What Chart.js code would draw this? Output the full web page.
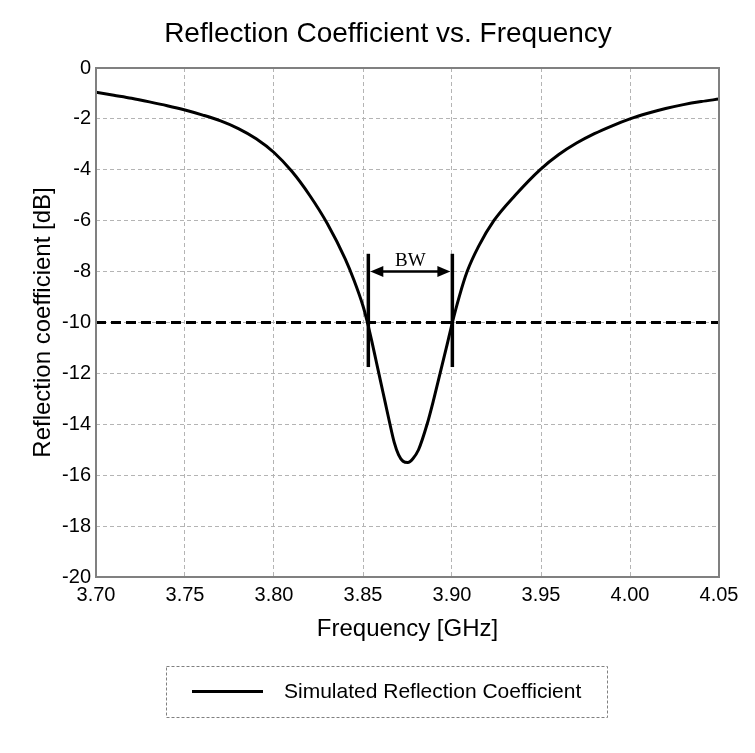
<!DOCTYPE html>
<html><head><meta charset="utf-8">
<script src="https://cdn.jsdelivr.net/npm/chart.js@4/dist/chart.umd.min.js"></script>
<style>html,body{margin:0;padding:0;background:#fff;}canvas{display:block;}</style>
</head><body>
<canvas id="c" width="755" height="753"></canvas>
<script>
// ---------- data ----------
const frequencyGHz = [3.700,3.710,3.720,3.730,3.740,3.750,3.760,3.770,3.780,3.790,3.800,3.810,3.820,3.830,3.840,3.845,3.850,3.8525,3.855,3.8575,3.860,3.8625,3.865,3.8675,3.870,3.8725,3.8752,3.878,3.8812,3.8860,3.8898,3.8933,3.8968,3.9002,3.9040,3.9085,3.9150,3.9235,3.9355,3.9494,3.960,3.970,3.980,3.990,4.000,4.010,4.020,4.030,4.040,4.050];
const reflectionDb = [-0.95,-1.07,-1.19,-1.33,-1.48,-1.65,-1.85,-2.08,-2.38,-2.78,-3.32,-4.06,-5.0,-6.12,-7.5,-8.35,-9.35,-10.0,-10.75,-11.55,-12.35,-13.15,-13.95,-14.7,-15.2,-15.45,-15.5,-15.35,-15.0,-14.0,-13.0,-12.0,-11.0,-10.0,-9.0,-8.0,-7.0,-6.0,-5.0,-4.0,-3.40,-2.95,-2.58,-2.27,-2.0,-1.78,-1.59,-1.44,-1.32,-1.22];
const thresholdDb = -10;
const thresholdRangeGHz = [3.70, 4.05];
const bandEdgesGHz = [3.853, 3.9002];
const bwMarkerDb = [-7.3, -11.75];
const bwArrowDb = -8.0;
const bwLabel = 'BW';
const xTicks = [3.70,3.75,3.80,3.85,3.90,3.95,4.00,4.05];
const yTicks = [0,-2,-4,-6,-8,-10,-12,-14,-16,-18,-20];
const titleText = 'Reflection Coefficient vs. Frequency';
const xTitle = 'Frequency [GHz]';
const yTitle = 'Reflection coefficient [dB]';
const seriesName = 'Simulated Reflection Coefficient';

const SANS = "'Liberation Sans', Arial, sans-serif";
Chart.defaults.font.family = SANS;
Chart.defaults.color = '#000';

const curve = frequencyGHz.map((f, i) => ({x: f, y: reflectionDb[i]}));
const threshold = thresholdRangeGHz.map(f => ({x: f, y: thresholdDb}));

const decor = {
  id: 'decor',
  afterDatasetsDraw(chart) {
    const ctx = chart.ctx, a = chart.chartArea;
    const xs = chart.scales.x, ys = chart.scales.y;
    ctx.save();
    // plot frame
    ctx.strokeStyle = '#808080';
    ctx.lineWidth = 2;
    ctx.setLineDash([]);
    ctx.strokeRect(a.left, a.top, a.right - a.left, a.bottom - a.top);
    // BW markers
    ctx.strokeStyle = '#000';
    ctx.fillStyle = '#000';
    ctx.lineWidth = 3.5;
    const y1 = ys.getPixelForValue(bwMarkerDb[0]);
    const y2 = ys.getPixelForValue(bwMarkerDb[1]);
    const xl = xs.getPixelForValue(bandEdgesGHz[0]);
    const xr = xs.getPixelForValue(bandEdgesGHz[1]);
    [xl, xr].forEach(x => { ctx.beginPath(); ctx.moveTo(x, y1); ctx.lineTo(x, y2); ctx.stroke(); });
    const ya = ys.getPixelForValue(bwArrowDb);
    const hl = 13, hw = 5.5;
    ctx.lineWidth = 2.5;
    ctx.beginPath(); ctx.moveTo(xl + hl - 2, ya); ctx.lineTo(xr - hl + 2, ya); ctx.stroke();
    ctx.beginPath(); ctx.moveTo(xl + 2, ya); ctx.lineTo(xl + 2 + hl, ya - hw); ctx.lineTo(xl + 2 + hl, ya + hw); ctx.closePath(); ctx.fill();
    ctx.beginPath(); ctx.moveTo(xr - 2, ya); ctx.lineTo(xr - 2 - hl, ya - hw); ctx.lineTo(xr - 2 - hl, ya + hw); ctx.closePath(); ctx.fill();
    ctx.font = "19px 'Liberation Serif', 'Times New Roman', serif";
    ctx.textAlign = 'center';
    ctx.textBaseline = 'alphabetic';
    ctx.fillText(bwLabel, (xl + xr) / 2, ya - 6);
    ctx.restore();
  },
  afterDraw(chart) {
    const ctx = chart.ctx;
    ctx.save();
    // title
    ctx.fillStyle = '#000';
    ctx.font = '28px ' + SANS;
    ctx.textAlign = 'center';
    ctx.textBaseline = 'alphabetic';
    ctx.fillText(titleText, 388, 42);
    // legend
    ctx.strokeStyle = '#808080';
    ctx.lineWidth = 1;
    ctx.setLineDash([3, 2]);
    ctx.strokeRect(166.5, 666.5, 441, 51);
    ctx.setLineDash([]);
    ctx.strokeStyle = '#000';
    ctx.lineWidth = 3;
    ctx.beginPath(); ctx.moveTo(192, 691.5); ctx.lineTo(263, 691.5); ctx.stroke();
    ctx.font = '21px ' + SANS;
    ctx.textAlign = 'left';
    ctx.textBaseline = 'middle';
    ctx.fillText(seriesName, 284, 692);
    ctx.restore();
  }
};

new Chart(document.getElementById('c'), {
  type: 'line',
  data: {
    datasets: [
      { label: seriesName, data: curve, borderColor: '#000', borderWidth: 3, pointRadius: 0, fill: false, cubicInterpolationMode: 'monotone' },
      { label: 'threshold', data: threshold, borderColor: '#000', borderWidth: 3, borderDash: [10, 5], pointRadius: 0, fill: false, tension: 0 }
    ]
  },
  options: {
    responsive: false,
    animation: false,
    events: [],
    layout: { padding: { left: 25, right: 36, top: 68, bottom: 109 } },
    plugins: { legend: { display: false }, title: { display: false }, tooltip: { enabled: false } },
    scales: {
      x: {
        type: 'linear', min: 3.70, max: 4.05,
        afterBuildTicks: s => { s.ticks = xTicks.map(v => ({ value: v })); },
        afterFit: s => { s.height = 67; },
        ticks: { autoSkip: false, maxRotation: 0, padding: 6, font: { size: 20 }, color: '#000', callback: v => Number(v).toFixed(2) },
        grid: { color: '#b4b4b4', lineWidth: 1, drawTicks: false },
        border: { display: false, dash: [4, 3] },
        title: { display: true, text: xTitle, font: { size: 24 }, color: '#000', padding: { top: 0, bottom: 0 } }
      },
      y: {
        type: 'linear', min: -20, max: 0,
        afterBuildTicks: s => { s.ticks = yTicks.map(v => ({ value: v })); },
        afterFit: s => { s.width = 71; },
        ticks: { autoSkip: false, padding: 5, font: { size: 20 }, color: '#000', callback: v => String(v) },
        grid: { color: '#b4b4b4', lineWidth: 1, drawTicks: false },
        border: { display: false, dash: [4, 3] },
        title: { display: true, text: yTitle, font: { size: 24 }, color: '#000', padding: { top: 4, bottom: 0 } }
      }
    }
  },
  plugins: [decor]
});
</script>
</body></html>
